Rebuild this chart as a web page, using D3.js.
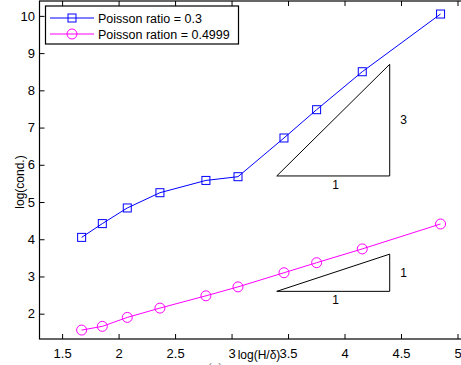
<!DOCTYPE html>
<html>
<head>
<meta charset="utf-8">
<script src="https://cdn.jsdelivr.net/npm/d3@7"></script>
<style>
  body { margin: 0; background: #fff; }
  svg { display: block; font-family: "Liberation Sans", Arial, sans-serif; }
</style>
</head>
<body>
<div id="chart"></div>
<script>
// log(H/delta) values, shared by both series
const xVals = [1.673, 1.856, 2.077, 2.366, 2.773, 3.057, 3.464, 3.753, 4.157, 4.85];
const nu03 = [4.05, 4.42, 4.84, 5.25, 5.58, 5.68, 6.72, 7.48, 8.50, 10.05];
const nu04999 = [1.56, 1.66, 1.90, 2.15, 2.48, 2.72, 3.10, 3.37, 3.74, 4.41];
const seriesNames = ["Poisson ratio = 0.3", "Poisson ration = 0.4999"];
const xTicks = [1.5, 2, 2.5, 3, 3.5, 4, 4.5, 5];
const yTicks = [2, 3, 4, 5, 6, 7, 8, 9, 10];
// slope triangles: [x0, y0, x1, y1]
const triangles = [[3.4, 5.7, 4.4, 8.7], [3.4, 2.6, 4.4, 3.6]];
const triLabels = [["1", "3"], ["1", "1"]];

const width = 461, height = 365;
const svg = d3.select("#chart").append("svg")
    .attr("width", width)
    .attr("height", height);

const x = d3.scaleLinear().domain([1.3, 5]).range([39.5, 457.5]);
const y = d3.scaleLinear().domain([1.32, 10.4]).range([339, 1]);

// frame
svg.append("rect")
    .attr("x", x(1.3)).attr("y", y(10.4))
    .attr("width", x(5.2) - x(1.3)).attr("height", y(1.32) - y(10.4))
    .attr("fill", "none").attr("stroke", "#000").attr("stroke-width", 1.2);

// bottom axis with inward ticks
svg.append("g")
    .attr("transform", `translate(0,${y(1.32)})`)
    .call(d3.axisBottom(x).tickValues(xTicks).tickSize(-5).tickPadding(10).tickFormat(d3.format("")))
    .call(g => g.select(".domain").remove())
    .call(g => g.selectAll("text").attr("font-size", 13).attr("fill", "#000").attr("font-family", "Liberation Sans, Arial, sans-serif"));

// top ticks
svg.append("g")
    .attr("transform", `translate(0,${y(10.4)})`)
    .call(d3.axisTop(x).tickValues(xTicks).tickSize(-5).tickFormat(""))
    .call(g => g.select(".domain").remove());

// left axis
svg.append("g")
    .attr("transform", `translate(${x(1.3)},0)`)
    .call(d3.axisLeft(y).tickValues(yTicks).tickSize(-5).tickPadding(4.5))
    .call(g => g.select(".domain").remove())
    .call(g => g.selectAll("text").attr("font-size", 13).attr("fill", "#000").attr("font-family", "Liberation Sans, Arial, sans-serif"));

// slope triangles
triangles.forEach((t, i) => {
    const [x0, y0, x1, y1] = t;
    svg.append("path")
        .attr("d", `M${x(x0)},${y(y0)}L${x(x1)},${y(y0)}L${x(x1)},${y(y1)}Z`)
        .attr("fill", "none").attr("stroke", "#000").attr("stroke-width", 1);
    svg.append("text")
        .attr("x", x((x0 + x1) / 2 + 0.02)).attr("y", y(y0) + 13)
        .attr("text-anchor", "middle").attr("font-size", 12)
        .text(triLabels[i][0]);
    svg.append("text")
        .attr("x", x(x1) + 14).attr("y", y((y0 + y1) / 2) + 4)
        .attr("text-anchor", "middle").attr("font-size", 12)
        .text(triLabels[i][1]);
});

const line = d3.line().x((d, i) => x(xVals[i])).y(d => y(d));

// series 1: blue squares
svg.append("path").datum(nu03)
    .attr("d", line).attr("fill", "none").attr("stroke", "#0000ff").attr("stroke-width", 1);
svg.append("g").selectAll("rect").data(nu03).enter().append("rect")
    .attr("x", (d, i) => x(xVals[i]) - 4).attr("y", d => y(d) - 4)
    .attr("width", 8).attr("height", 8)
    .attr("fill", "none").attr("stroke", "#0000ff").attr("stroke-width", 1);

// series 2: magenta circles
svg.append("path").datum(nu04999)
    .attr("d", line).attr("fill", "none").attr("stroke", "#ff00ff").attr("stroke-width", 1);
svg.append("g").selectAll("circle").data(nu04999).enter().append("circle")
    .attr("cx", (d, i) => x(xVals[i])).attr("cy", d => y(d))
    .attr("r", 5).attr("fill", "none").attr("stroke", "#ff00ff").attr("stroke-width", 1);

// legend
const legend = svg.append("g");
legend.append("rect")
    .attr("x", 45.5).attr("y", 6).attr("width", 193).attr("height", 38)
    .attr("fill", "#fff").attr("stroke", "#000").attr("stroke-width", 1.2);
const rows = [18, 34];
rows.forEach((ry, i) => {
    const col = i === 0 ? "#0000ff" : "#ff00ff";
    legend.append("line").attr("x1", 50).attr("x2", 94).attr("y1", ry).attr("y2", ry)
        .attr("stroke", col).attr("stroke-width", 1);
    if (i === 0) {
        legend.append("rect").attr("x", 72 - 4).attr("y", ry - 4).attr("width", 8).attr("height", 8)
            .attr("fill", "none").attr("stroke", col);
    } else {
        legend.append("circle").attr("cx", 72).attr("cy", ry).attr("r", 5)
            .attr("fill", "none").attr("stroke", col);
    }
    legend.append("text").attr("x", 98).attr("y", ry + 4.5)
        .attr("font-size", 12.5).text(seriesNames[i]);
});

// axis labels
svg.append("text")
    .attr("x", 259).attr("y", 359)
    .attr("text-anchor", "middle").attr("font-size", 12)
    .text("log(H/δ)");
svg.append("text")
    .attr("transform", `translate(24,182) rotate(-90)`)
    .attr("text-anchor", "middle").attr("font-size", 12)
    .text("log(cond.)");
svg.append("text")
    .attr("x", 215).attr("y", 372)
    .attr("text-anchor", "middle").attr("font-size", 12).attr("fill", "#888")
    .text("(a)");
</script>
</body>
</html>
